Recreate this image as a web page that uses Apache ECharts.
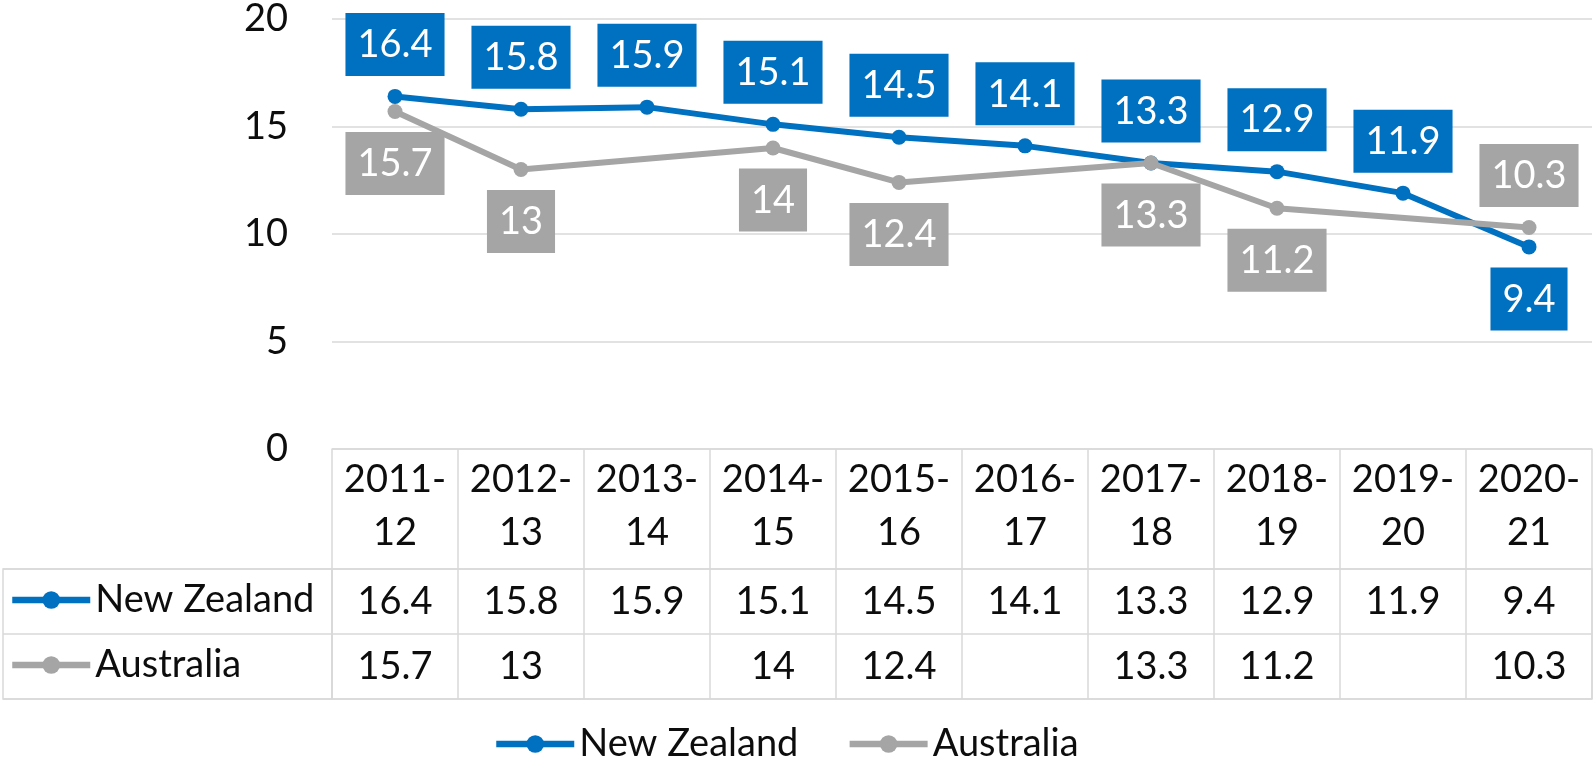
<!DOCTYPE html>
<html><head><meta charset="utf-8">
<script src="https://cdn.jsdelivr.net/npm/echarts@6/dist/echarts.min.js"></script>
<style>html,body{margin:0;padding:0;background:#fff}#c{width:1594px;height:758px}</style>
</head><body><div id="c"></div>
<script>
// ---- data ----
const categories = ['2011-12','2012-13','2013-14','2014-15','2015-16','2016-17','2017-18','2018-19','2019-20','2020-21'];
const nzValues = [16.4, 15.8, 15.9, 15.1, 14.5, 14.1, 13.3, 12.9, 11.9, 9.4];
const auValues = [15.7, 13, null, 14, 12.4, null, 13.3, 11.2, null, 10.3];
const seriesNames = ['New Zealand', 'Australia'];
const yMin = 0, yMax = 20, yStep = 5;
const nzLabelPos = ['top','top','top','top','top','top','top','top','top','bottom'];
const auLabelPos = ['bottom','bottom','bottom','bottom','bottom','bottom','bottom','bottom','bottom','top'];

// ---- style ----
const FONT = 'Lato';
const FS = 38;
const BLUE = '#0070C0';
const GREY = '#A5A5A5';
const LINE = '#D9D9D9';
const TXT = '#0d0d0d';

const chart = echarts.init(document.getElementById('c'), null, {renderer: 'canvas'});

function dataLabel(color) {
  return {
    show: true, distance: 13, backgroundColor: color, color: '#fff',
    fontFamily: FONT, fontSize: FS, lineHeight: 40, padding: [12, 12, 11, 12]
  };
}
function tableRow(values, row) {
  const out = [];
  values.forEach((v, i) => { if (v != null) out.push([i, row, v]); });
  return out;
}

const legendCommon = {
  selectedMode: false, padding: 0, itemWidth: 78, itemHeight: 22,
  lineStyle: {width: 6.5},
  textStyle: {fontFamily: FONT, fontSize: FS, lineHeight: 40, color: TXT}
};

const tableLabel = {
  show: true, position: 'inside', formatter: p => String(p.value[2]),
  color: TXT, fontFamily: FONT, fontSize: FS, opacity: 1
};

chart.setOption({
  animation: false,
  backgroundColor: '#fff',
  grid: [
    {left: 332, right: 2, top: 16, height: 433},
    {left: 3, width: 329, top: 569, height: 130, show: true, borderColor: LINE, borderWidth: 1.5},
    {left: 332, right: 2, top: 569, height: 130, show: true, borderColor: LINE, borderWidth: 1.5}
  ],
  legend: [
    Object.assign({}, legendCommon, {data: seriesNames, orient: 'horizontal', left: 493, top: 724, itemGap: 48}),
    Object.assign({}, legendCommon, {data: seriesNames, orient: 'vertical', left: 9, top: 580, itemGap: 25})
  ],
  xAxis: [
    {
      gridIndex: 0, type: 'category', data: categories, boundaryGap: true,
      axisLine: {show: true, lineStyle: {color: LINE, width: 1.5}},
      axisTick: {show: true, length: 120, inside: false, interval: 0, lineStyle: {color: LINE, width: 1.5}},
      axisLabel: {
        interval: 0, margin: 4, color: TXT, fontFamily: FONT, fontSize: FS, lineHeight: 53,
        formatter: v => v.replace('-', '-\n')
      },
      splitLine: {show: false}
    },
    {gridIndex: 1, type: 'value', show: false},
    {
      gridIndex: 2, type: 'category', data: categories, boundaryGap: true,
      axisLine: {show: false}, axisTick: {show: false}, axisLabel: {show: false},
      splitLine: {show: true, interval: 0, lineStyle: {color: LINE, width: 1.5}}
    }
  ],
  yAxis: [
    {
      gridIndex: 0, type: 'value', min: yMin, max: yMax, interval: yStep,
      axisLine: {show: false}, axisTick: {show: false},
      axisLabel: {margin: 44, color: TXT, fontFamily: FONT, fontSize: FS},
      splitLine: {show: true, lineStyle: {color: LINE, width: 1.5}}
    },
    {
      gridIndex: 1, type: 'category', data: seriesNames, inverse: true,
      axisLine: {show: false}, axisTick: {show: false}, axisLabel: {show: false},
      splitLine: {show: true, interval: 0, lineStyle: {color: LINE, width: 1.5}}
    },
    {
      gridIndex: 2, type: 'category', data: seriesNames, inverse: true,
      axisLine: {show: false}, axisTick: {show: false}, axisLabel: {show: false},
      splitLine: {show: true, interval: 0, lineStyle: {color: LINE, width: 1.5}}
    }
  ],
  series: [
    {
      name: seriesNames[0], type: 'line', xAxisIndex: 0, yAxisIndex: 0,
      data: nzValues.map((v, i) => ({value: v, label: {position: nzLabelPos[i]}})),
      symbol: 'circle', symbolSize: 15, showAllSymbol: true,
      lineStyle: {width: 6, color: BLUE}, itemStyle: {color: BLUE},
      label: dataLabel(BLUE), z: 3
    },
    {
      name: seriesNames[1], type: 'line', xAxisIndex: 0, yAxisIndex: 0, connectNulls: true,
      data: auValues.map((v, i) => ({value: v, label: {position: auLabelPos[i]}})),
      symbol: 'circle', symbolSize: 15, showAllSymbol: true,
      lineStyle: {width: 6, color: GREY}, itemStyle: {color: GREY},
      label: dataLabel(GREY), z: 4
    },
    {
      name: 'tableNZ', type: 'scatter', xAxisIndex: 2, yAxisIndex: 2, silent: true,
      symbolSize: 1, itemStyle: {color: 'rgba(0,0,0,0)', opacity: 1},
      data: tableRow(nzValues, 0), label: tableLabel
    },
    {
      name: 'tableAU', type: 'scatter', xAxisIndex: 2, yAxisIndex: 2, silent: true,
      symbolSize: 1, itemStyle: {color: 'rgba(0,0,0,0)', opacity: 1},
      data: tableRow(auValues, 1), label: tableLabel
    }
  ]
});
</script>
</body></html>
